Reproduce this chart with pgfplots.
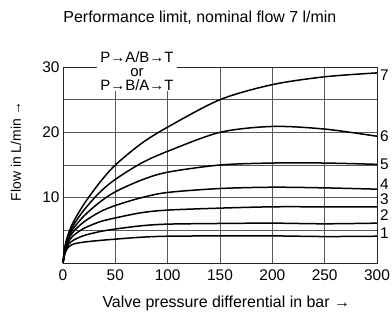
\documentclass[border=0pt]{standalone}
\usepackage{fontspec}
\setmainfont{Liberation Sans}
\usepackage{pgfplots}
\pgfplotsset{compat=1.18}
\newcommand\fs{\fontsize{15.5}{17}\selectfont}
\begin{document}
\begin{tikzpicture}
\begin{axis}[
  scale only axis, width=314bp, height=196bp,
  xmin=0, xmax=300, ymin=0, ymax=30,
  xtick={0,50,...,300}, ytick={10,20,30},
  minor ytick={5,15,25},
  grid=both,
  major grid style={draw=black!65, line width=0.8bp},
  minor grid style={draw=black!65, line width=0.8bp},
  major tick length=0pt, minor tick length=0pt,
  axis line style={draw=black!85, line width=0.8bp},
  tick label style={font=\fs},
  xticklabel style={yshift=-3bp},
  /pgf/number format/assume math mode=true,
  clip=false,
  cycle list={{black, mark=none}},
  every axis plot/.append style={line width=1.5bp, smooth},
]
\addplot coordinates {(0,0)(2,1.5)(5,2.4)(10,2.9)(20,3.2)(35,3.45)(50,3.65)(75,3.95)(100,4.1)(150,4.15)(200,4.15)(250,4.05)(300,4.1)};
\addplot coordinates {(0,0)(2,1.7)(5,2.8)(10,3.5)(20,4.2)(35,4.8)(50,5.2)(75,5.7)(100,5.95)(150,6.05)(200,6.1)(250,6.0)(300,6.1)};
\addplot coordinates {(0,0)(2,2.0)(5,3.2)(10,4.2)(20,5.3)(35,6.3)(50,6.9)(75,7.7)(100,8.1)(150,8.4)(200,8.6)(250,8.6)(300,8.6)};
\addplot coordinates {(0,0)(2,2.2)(5,3.6)(10,4.8)(20,6.3)(35,7.8)(50,8.8)(75,10.0)(100,10.8)(150,11.4)(200,11.6)(250,11.5)(300,11.3)};
\addplot coordinates {(0,0)(2,2.4)(5,3.9)(10,5.3)(20,7.2)(35,9.3)(50,10.9)(75,12.7)(100,13.9)(150,15.0)(200,15.3)(250,15.3)(300,15.1)};
\addplot coordinates {(0,0)(2,2.5)(5,4.1)(10,5.8)(20,8.1)(35,10.8)(50,12.8)(75,15.3)(100,17.1)(150,20.0)(200,20.9)(250,20.5)(300,19.4)};
\addplot coordinates {(0,0)(2,2.6)(5,4.4)(10,6.3)(20,9.0)(35,12.3)(50,15.0)(75,18.3)(100,20.8)(150,25.0)(200,27.3)(250,28.5)(300,29.1)};
\coordinate (lbl) at (axis cs:70.7,29.4);
\begin{scope}[every node/.style={anchor=west, font=\fs, inner sep=0pt, xshift=3bp}]
\node at (axis cs:300,28.8) {7};
\node at (axis cs:300,19.4) {6};
\node at (axis cs:300,15.05) {5};
\node at (axis cs:300,12.1) {4};
\node at (axis cs:300,9.7) {3};
\node at (axis cs:300,7.3) {2};
\node at (axis cs:300,4.6) {1};
\end{scope}
\node[font=\fontsize{16}{18}\selectfont] at ([yshift=49bp]rel axis cs:0.436,1) {Performance limit, nominal flow 7 l/min};
\node[font=\fontsize{16}{18}\selectfont] at ([yshift=-40bp]rel axis cs:0.52,0) {Valve pressure differential in bar →};
\node[font=\fontsize{14}{16}\selectfont, rotate=90] at ([xshift=-47bp]rel axis cs:0,0.57) {Flow in L/min →};
\end{axis}
\node[fill=white, inner xsep=3bp, inner ysep=1bp, align=center, font=\fontsize{15}{13.5}\selectfont] at (lbl) {P→A/B→T\\[0.5bp]or\\[0.5bp]P→B/A→T};
\pgfresetboundingbox
\path[use as bounding box] ([shift={(-63bp,-54bp)}]current axis.south west) rectangle ([shift={(15bp,67bp)}]current axis.north east);
\end{tikzpicture}
\end{document}
